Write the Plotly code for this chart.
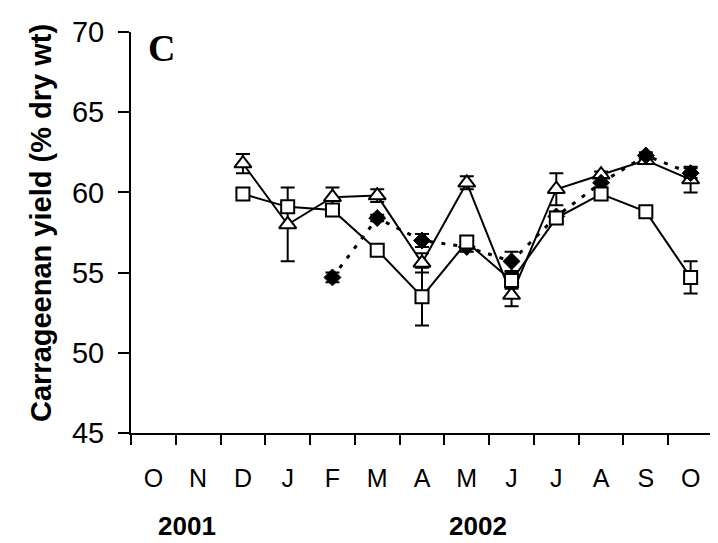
import plotly.graph_objects as go

months = ["O", "N", "D", "J", "F", "M", "A", "M", "J", "J", "A", "S", "O"]
month_idx = list(range(len(months)))

# Series with open triangles (solid line)
tri_x = [2, 3, 4, 5, 6, 7, 8, 9, 10, 11, 12]
tri_y = [61.8, 58.0, 59.7, 59.8, 55.6, 60.6, 53.6, 60.2, 61.1, 62.0, 60.8]
tri_err = [0.6, 2.3, 0.6, 0.4, 0.6, 0.4, 0.7, 1.0, 0.2, 0.2, 0.8]

# Series with open squares (solid line)
sq_x = [2, 3, 4, 5, 6, 7, 8, 9, 10, 11, 12]
sq_y = [59.9, 59.1, 58.9, 56.4, 53.5, 56.9, 54.5, 58.4, 59.9, 58.8, 54.7]
sq_err = [0.2, 0.3, 0.2, 0.2, 1.8, 0.3, 0.5, 0.3, 0.3, 0.2, 1.0]

# Series with filled diamonds (dotted line)
dia_x = [4, 5, 6, 7, 8, 9, 10, 11, 12]
dia_y = [54.7, 58.4, 57.0, 56.6, 55.7, 58.5, 60.6, 62.3, 61.2]
dia_err = [0.3, 0.2, 0.4, 0.3, 0.6, 0.3, 0.3, 0.2, 0.3]

fig = go.Figure()

fig.add_trace(go.Scatter(
    x=tri_x, y=tri_y, mode="lines+markers",
    line=dict(color="black", width=2),
    marker=dict(symbol="triangle-up", size=15, color="white",
                line=dict(color="black", width=2)),
    error_y=dict(type="data", array=tri_err, color="black", thickness=2, width=7),
    showlegend=False))

fig.add_trace(go.Scatter(
    x=dia_x, y=dia_y, mode="lines+markers",
    line=dict(color="black", width=3, dash="4px,8px"),
    marker=dict(symbol="diamond", size=13, color="black",
                line=dict(color="black", width=1)),
    error_y=dict(type="data", array=dia_err, color="black", thickness=2, width=7),
    showlegend=False))

fig.add_trace(go.Scatter(
    x=sq_x, y=sq_y, mode="lines+markers",
    line=dict(color="black", width=2),
    marker=dict(symbol="square", size=13, color="white",
                line=dict(color="black", width=2)),
    error_y=dict(type="data", array=sq_err, color="black", thickness=2, width=7),
    showlegend=False))

# The page body adds an 8px offset; size the figure to compensate.
fig.update_layout(
    width=710, height=535,
    margin=dict(l=123, r=5, t=24, b=110),
    paper_bgcolor="white", plot_bgcolor="white",
    font=dict(family="Liberation Sans, Arial, sans-serif", color="black"),
)

fig.update_xaxes(
    range=[-0.5, 12.5],
    tickmode="array", tickvals=month_idx, ticktext=months,
    ticks="outside", ticklen=22, tickcolor="rgba(0,0,0,0)",
    tickfont=dict(size=25),
    minor=dict(tickmode="array", tickvals=[i - 0.5 for i in range(14)],
               ticks="outside", ticklen=10, tickwidth=2, tickcolor="black",
               showgrid=False),
    showline=True, linecolor="black", linewidth=2,
    showgrid=False, zeroline=False,
)

fig.update_yaxes(
    range=[45, 70], tickmode="array", tickvals=[45, 50, 55, 60, 65, 70],
    ticks="outside", ticklen=11, tickwidth=2, tickcolor="black",
    tickfont=dict(size=29), ticklabelstandoff=8,
    showline=True, linecolor="black", linewidth=2,
    showgrid=False, zeroline=False,
)

fig.add_annotation(
    text="<b>Carrageenan yield (% dry wt)</b>", textangle=-90,
    xref="paper", yref="paper", x=(41 - 131) / 582, y=(433.3 - 223) / 401.6,
    xanchor="center", yanchor="middle", showarrow=False,
    font=dict(size=29, family="Liberation Sans, Arial, sans-serif"))

fig.add_annotation(
    text="<b>C</b>", xref="paper", yref="paper",
    x=(161 - 131) / 582, y=(433.3 - 48) / 401.6,
    xanchor="center", yanchor="middle", showarrow=False,
    font=dict(size=38, family="Liberation Serif, Times New Roman, serif"))

for label, xc in [("2001", 0.75), ("2002", 7.25)]:
    fig.add_annotation(
        text="<b>" + label + "</b>", xref="x", yref="paper",
        x=xc, y=(433.3 - 526) / 401.6, xanchor="center", yanchor="middle",
        showarrow=False, font=dict(size=26))

fig.write_html("out.html")
